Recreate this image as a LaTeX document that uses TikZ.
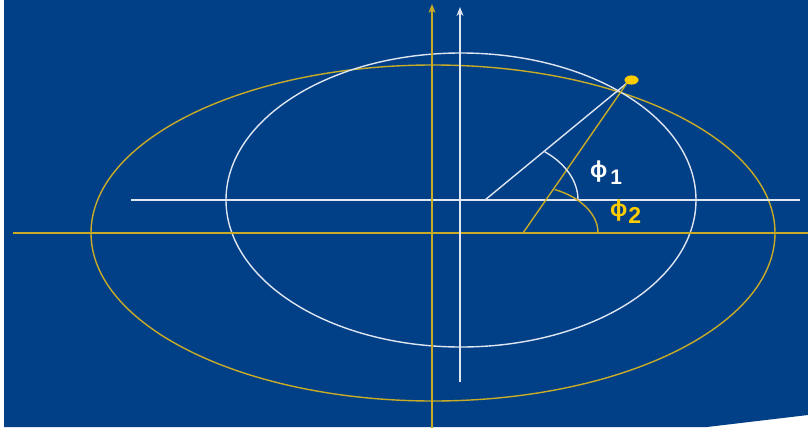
\documentclass[tikz,border=0pt]{standalone}
\usepackage{fontspec}
\setmainfont{Liberation Sans}
\usetikzlibrary{arrows.meta}
\definecolor{bgblue}{RGB}{1,63,134}
\definecolor{axisyellow}{RGB}{200,172,40}
\definecolor{lineWhite}{RGB}{222,230,242}
\definecolor{labelyellow}{RGB}{255,204,0}
\newcommand{\mysubfont}{\bfseries\fontsize{21pt}{21pt}\selectfont}
\tikzset{
  yl/.style={draw=axisyellow, line width=1.4pt},
  wl/.style={draw=lineWhite, line width=1.4pt},
  ytip/.style={-{Stealth[length=9pt,width=7pt]}},
  lbl/.style={inner sep=0pt, font=\bfseries\fontsize{23pt}{23pt}\selectfont},
}
\begin{document}
\begin{tikzpicture}[x=1pt,y=-1pt]
\useasboundingbox (0,0) rectangle (808,428);
% background
\fill[white] (0,0) rectangle (808,428);
\fill[bgblue] (4,0) -- (808,0) -- (808,415) -- (707,427) -- (4,427) -- cycle;

% named points
\coordinate (yc) at (433,233);
\coordinate (wc) at (461,200);
\coordinate (yh0) at (13,233);
\coordinate (yh1) at (808,233);
\coordinate (wh0) at (131,200);
\coordinate (wh1) at (800,200);
\coordinate (yv0) at (432,428);
\coordinate (yv1) at (432,4);
\coordinate (wv0) at (460,382);
\coordinate (wv1) at (460,7);
\coordinate (wfoc) at (485,200);
\coordinate (yfoc) at (523,233);
\coordinate (pt) at (627,83);

% ellipses
\draw[yl] (yc) ellipse [x radius=342pt, y radius=168pt];
\draw[wl] (wc) ellipse [x radius=235pt, y radius=147pt];

% axes
\draw[yl] (yh0) -- (yh1);
\draw[wl] (wh0) -- (wh1);
\draw[yl, ytip] (yv0) -- (yv1);
\draw[wl, ytip] (wv0) -- (wv1);

% radii
\draw[wl] (wfoc) -- (pt);
\draw[yl] (yfoc) -- (pt);

% angle arcs
\draw[wl] ([xshift=93pt]wfoc) arc[start angle=0, end angle=50, x radius=93pt, y radius=63pt];
\draw[yl] ([xshift=75pt]yfoc) arc[start angle=0, end angle=65, x radius=75pt, y radius=48pt];

% point
\fill[labelyellow] (631.5,80) ellipse [x radius=7pt, y radius=4.6pt];
\node[coordinate] (dot) at (631.5,80) {};

% labels
\node[lbl, text=white, anchor=base west] (phi1) at (590,177) {ϕ\hspace{3pt}\raisebox{-7pt}{\mysubfont 1}};
\node[lbl, text=labelyellow, anchor=base west] (phi2) at (610,216) {ϕ\hspace{1pt}\raisebox{-7pt}{\mysubfont\fontsize{23pt}{23pt}\selectfont 2}};
\end{tikzpicture}
\end{document}
